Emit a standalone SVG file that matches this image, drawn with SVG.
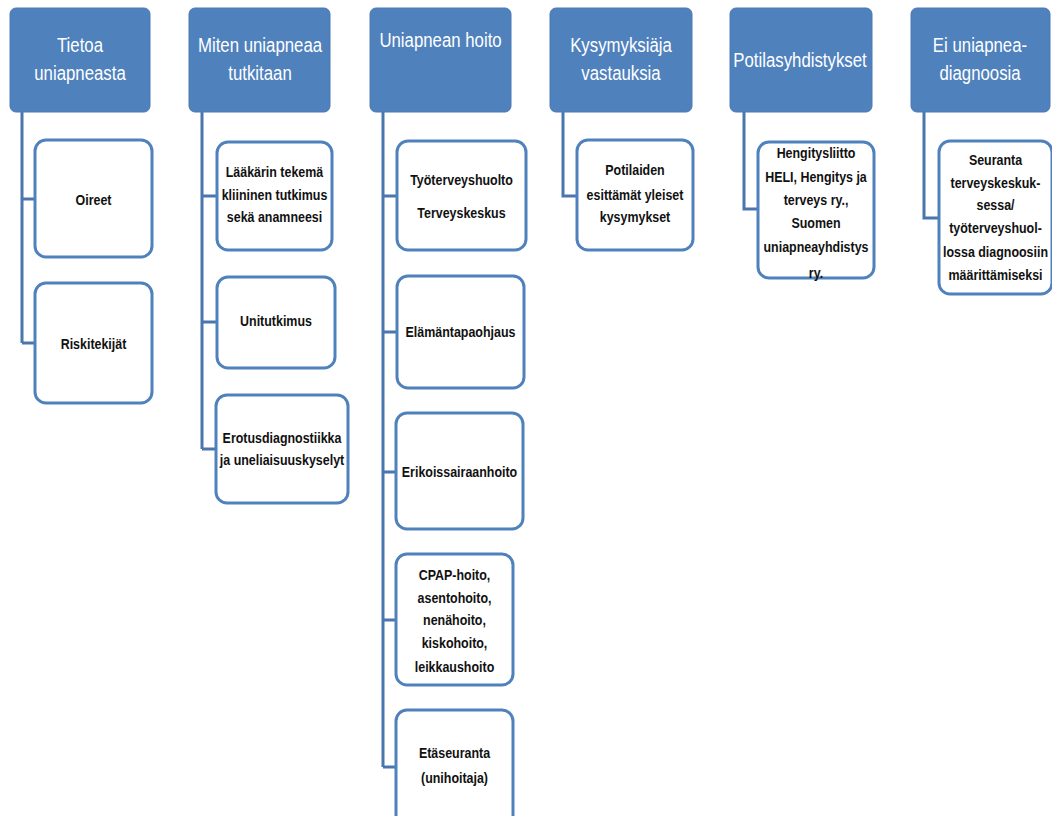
<svg xmlns="http://www.w3.org/2000/svg" width="1052" height="816" viewBox="0 0 1052 816">
<style>
.hd{fill:#4F81BD;stroke:#4A7AB5;stroke-width:1}
.ch{fill:#fff;stroke:#4F81BD;stroke-width:3}
.ht{font-family:"Liberation Sans",Arial,sans-serif;font-size:21px;fill:#fff;text-anchor:middle}
.ct{font-family:"Liberation Sans",Arial,sans-serif;font-size:15px;font-weight:bold;fill:#111;text-anchor:middle}
.cn{fill:none;stroke:#4A76AE;stroke-width:3}
</style>
<rect width="1052" height="816" fill="#fff"/>
<g id="connectors">
<path class="cn" d="M22,112 V343 M22,199 H35 M22,343 H35"/>
<path class="cn" d="M202,112 V449 M202,196 H217 M202,322 H217 M202,449 H216"/>
<path class="cn" d="M383,112 V767 M383,196 H397 M383,332 H397 M383,472 H396 M383,620 H396 M383,767 H396"/>
<path class="cn" d="M563,112 V196 H577"/>
<path class="cn" d="M744,112 V209 H758"/>
<path class="cn" d="M924,112 V218 H939"/>
</g>
<g id="h1"><rect class="hd" x="10" y="8" width="140" height="104" rx="6"/><text class="ht" transform="translate(80,52) scale(0.8,1)">Tietoa</text><text class="ht" transform="translate(80,80) scale(0.8,1)">uniapneasta</text></g>
<g id="h2"><rect class="hd" x="189" y="8" width="141" height="104" rx="6"/><text class="ht" transform="translate(260,52) scale(0.8,1)">Miten uniapneaa</text><text class="ht" transform="translate(260,80) scale(0.8,1)">tutkitaan</text></g>
<g id="h3"><rect class="hd" x="370" y="8" width="141" height="104" rx="6"/><text class="ht" transform="translate(440.5,47) scale(0.8,1)">Uniapnean hoito</text></g>
<g id="h4"><rect class="hd" x="550" y="8" width="142" height="104" rx="6"/><text class="ht" transform="translate(621,52) scale(0.8,1)">Kysymyksiäja</text><text class="ht" transform="translate(621,80) scale(0.8,1)">vastauksia</text></g>
<g id="h5"><rect class="hd" x="730" y="8" width="142" height="104" rx="6"/><text class="ht" transform="translate(800,67) scale(0.8,1)">Potilasyhdistykset</text></g>
<g id="h6"><rect class="hd" x="911" y="8" width="139" height="104" rx="6"/><text class="ht" transform="translate(980,52) scale(0.8,1)">Ei uniapnea-</text><text class="ht" transform="translate(980,80) scale(0.8,1)">diagnoosia</text></g>

<g id="c1a"><rect class="ch" x="35" y="140" width="117" height="117" rx="11"/><text class="ct" transform="translate(93.5,205) scale(0.83,1)">Oireet</text></g>
<g id="c1b"><rect class="ch" x="35" y="283" width="117" height="120" rx="11"/><text class="ct" transform="translate(93.5,349) scale(0.83,1)">Riskitekijät</text></g>

<g id="c2a"><rect class="ch" x="217" y="142" width="115" height="108" rx="11"/><text class="ct" transform="translate(274.5,177) scale(0.83,1)">Lääkärin tekemä</text><text class="ct" transform="translate(274.5,200) scale(0.83,1)">kliininen  tutkimus</text><text class="ct" transform="translate(274.5,222) scale(0.83,1)">sekä anamneesi</text></g>
<g id="c2b"><rect class="ch" x="217" y="277" width="118" height="91" rx="11"/><text class="ct" transform="translate(276,326) scale(0.83,1)">Unitutkimus</text></g>
<g id="c2c"><rect class="ch" x="216" y="395" width="132" height="108" rx="11"/><text class="ct" transform="translate(282,443) scale(0.83,1)">Erotusdiagnostiikka</text><text class="ct" transform="translate(282,465) scale(0.83,1)">ja uneliaisuuskyselyt</text></g>

<g id="c3a"><rect class="ch" x="397" y="141" width="129" height="109" rx="11"/><text class="ct" transform="translate(461.5,185) scale(0.83,1)">Työterveyshuolto</text><text class="ct" transform="translate(461.5,218) scale(0.83,1)">Terveyskeskus</text></g>
<g id="c3b"><rect class="ch" x="397" y="276" width="127" height="112" rx="11"/><text class="ct" transform="translate(460.5,337) scale(0.83,1)">Elämäntapaohjaus</text></g>
<g id="c3c"><rect class="ch" x="396" y="413" width="127" height="116" rx="11"/><text class="ct" transform="translate(459.5,477) scale(0.83,1)">Erikoissairaanhoito</text></g>
<g id="c3d"><rect class="ch" x="396" y="554" width="117" height="131" rx="11"/><text class="ct" transform="translate(454.5,580) scale(0.83,1)">CPAP-hoito,</text><text class="ct" transform="translate(454.5,603) scale(0.83,1)">asentohoito,</text><text class="ct" transform="translate(454.5,625) scale(0.83,1)">nenähoito,</text><text class="ct" transform="translate(454.5,648) scale(0.83,1)">kiskohoito,</text><text class="ct" transform="translate(454.5,672) scale(0.83,1)">leikkaushoito</text></g>
<g id="c3e"><rect class="ch" x="396" y="710" width="117" height="120" rx="11"/><text class="ct" transform="translate(454.5,758) scale(0.83,1)">Etäseuranta</text><text class="ct" transform="translate(454.5,783) scale(0.83,1)">(unihoitaja)</text></g>

<g id="c4a"><rect class="ch" x="577" y="140" width="116" height="110" rx="11"/><text class="ct" transform="translate(635,175) scale(0.83,1)">Potilaiden</text><text class="ct" transform="translate(635,200) scale(0.83,1)">esittämät yleiset</text><text class="ct" transform="translate(635,222) scale(0.83,1)">kysymykset</text></g>

<g id="c5a"><rect class="ch" x="758" y="142" width="116" height="136" rx="11"/><text class="ct" transform="translate(816,158) scale(0.83,1)">Hengitysliitto</text><text class="ct" transform="translate(816,182) scale(0.83,1)">HELI, Hengitys ja</text><text class="ct" transform="translate(816,205) scale(0.83,1)">terveys ry.,</text><text class="ct" transform="translate(816,228) scale(0.83,1)">Suomen</text><text class="ct" transform="translate(816,252) scale(0.83,1)">uniapneayhdistys</text><text class="ct" transform="translate(816,278) scale(0.83,1)">ry.</text></g>

<g id="c6a"><rect class="ch" x="939" y="141" width="113" height="153" rx="11"/><text class="ct" transform="translate(995.5,165) scale(0.83,1)">Seuranta</text><text class="ct" transform="translate(995.5,188) scale(0.83,1)">terveyskeskuk-</text><text class="ct" transform="translate(995.5,210) scale(0.83,1)">sessa/</text><text class="ct" transform="translate(995.5,233) scale(0.83,1)">työterveyshuol-</text><text class="ct" transform="translate(995.5,257) scale(0.83,1)">lossa diagnoosiin</text><text class="ct" transform="translate(995.5,280) scale(0.83,1)">määrittämiseksi</text></g>
</svg>
